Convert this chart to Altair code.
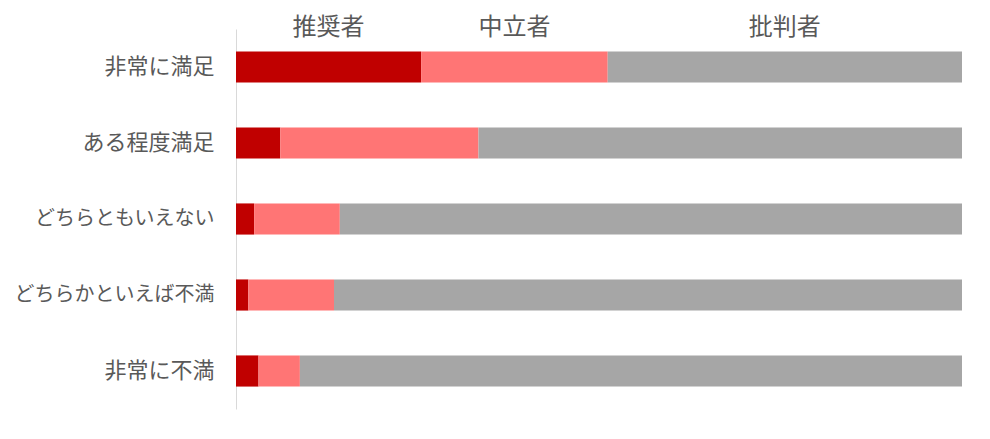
import altair as alt
import pandas as pd

categories = ["非常に満足", "ある程度満足", "どちらともいえない", "どちらかといえば不満", "非常に不満"]
groups = ["推奨者", "中立者", "批判者"]
promoters = [25.5, 6.1, 2.5, 1.7, 3.1]
passives = [25.7, 27.3, 11.8, 11.8, 5.7]
detractors = [48.8, 66.6, 85.7, 86.5, 91.2]
colors = ["#C00000", "#FF7575", "#A6A6A6"]

rows = []
for i, cat in enumerate(categories):
    for k, (g, vals) in enumerate(zip(groups, [promoters, passives, detractors])):
        rows.append({"category": cat, "group": g, "order": k, "value": vals[i]})
df = pd.DataFrame(rows)

font = "Noto Sans CJK JP"

base = alt.Chart(df).transform_stack(
    stack="value", groupby=["category"], sort=[alt.SortField("order")],
    as_=["start", "end"], offset="normalize",
)

# long kana-heavy labels get a slightly smaller size so they fit on the left
label_size = {"condition": {"test": "length(datum.label) > 6", "value": 20}, "value": 22}

bars = base.mark_bar().encode(
    x=alt.X("start:Q", axis=None, scale=alt.Scale(domain=[0, 1], nice=False)),
    x2="end:Q",
    y=alt.Y(
        "category:N", sort=categories, title=None,
        scale=alt.Scale(paddingInner=0.59, paddingOuter=0.295),
        axis=alt.Axis(
            ticks=False, grid=False, domainColor="#D9D9D9", domainWidth=1,
            labelFont=font, labelFontSize=label_size, labelColor="#595959",
            labelPadding=22, labelLimit=0,
        ),
    ),
    color=alt.Color("group:N", sort=groups, scale=alt.Scale(domain=groups, range=colors), legend=None),
)

headers = base.transform_filter(
    alt.datum.category == categories[0]
).transform_calculate(
    mid="(datum.start + datum.end) / 2"
).mark_text(font=font, fontSize=24, color="#595959", baseline="middle").encode(
    x="mid:Q",
    y=alt.value(-1),
    text="group:N",
)

chart = alt.layer(bars, headers).properties(
    width=726, height=380,
    padding={"left": 228, "top": 21, "right": 20, "bottom": 10},
    autosize=alt.AutoSizeParams(type="none"),
).configure_view(stroke=None)

chart.save("out.html", embed_options={"renderer": "svg", "actions": False})
